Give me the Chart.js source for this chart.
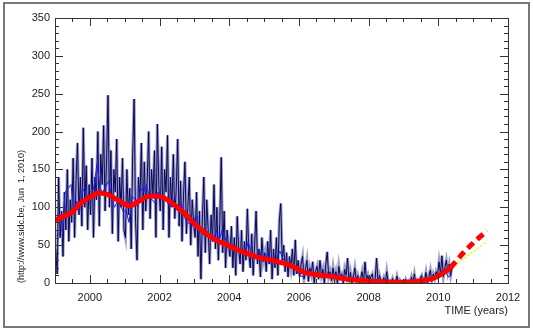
<!DOCTYPE html>
<html>
<head>
<meta charset="utf-8">
<script src="https://cdn.jsdelivr.net/npm/chart.js@4/dist/chart.umd.min.js"></script>
<style>
  html, body { margin: 0; padding: 0; background: #fff; }
  canvas { display: block; }
</style>
</head>
<body>
<canvas id="grafica" width="533" height="332"></canvas>
<script>
// Sunspot number, two values per month (start 1999.0)
const dailyValues = [
  45, 12, 140, 60, 95, 35, 120, 70, 150, 55, 110, 80, 165, 60, 135, 185, 90, 140, 75, 205, 100, 155, 70, 130,     // 1999
  90, 165, 60, 140, 110, 200, 75, 170, 130, 208, 95, 160, 248, 100, 175, 65, 150, 120, 190, 55, 140, 100, 165, 70, // 2000
  60, 150, 90, 125, 45, 170, 243, 80, 30, 140, 110, 185, 70, 160, 95, 135, 200, 85, 150, 115, 175, 60, 210, 130,   // 2001
  95, 180, 70, 150, 120, 195, 60, 140, 100, 170, 85, 125, 190, 75, 135, 55, 115, 160, 65, 100, 140, 50, 110, 80,   // 2002
  60, 120, 35, 95, 5, 85, 140, 40, 110, 70, 25, 90, 55, 130, 45, 100, 30, 80, 166, 40, 95, 20, 70, 50,             // 2003
  35, 75, 20, 60, 10, 88, 45, 25, 70, 15, 55, 30, 98, 40, 20, 65, 10, 50, 95, 25, 45, 8, 60, 30,                   // 2004
  40, 15, 55, 25, 70, 5, 45, 20, 60, 10, 82, 105, 30, 50, 15, 40, 8, 35, 20, 45, 10, 57, 12, 30,                   // 2005
  8, 25, 35, 5, 18, 30, 2, 20, 12, 28, 0, 15, 22, 5, 30, 10, 18, 0, 25, 41, 8, 15, 3, 20,                          // 2006
  5, 15, 0, 22, 8, 12, 0, 18, 10, 33, 2, 14, 0, 8, 20, 3, 10, 0, 6, 15, 0, 28, 4, 10,                              // 2007
  0, 8, 12, 0, 5, 33, 0, 10, 2, 0, 7, 0, 15, 0, 3, 0, 6, 0, 0, 9, 0, 4, 0, 2,                                      // 2008
  0, 5, 0, 3, 0, 8, 0, 12, 0, 4, 0, 6, 10, 0, 3, 14, 0, 8, 17, 2, 12, 6, 15, 10,                                   // 2009
  28, 12, 36, 8, 20, 30, 15, 25, 10, 22                                                                           // 2010
];

// Monthly mean (start 1999.0)
const monthlyValues = [
  62, 66, 70, 120, 125, 130, 95, 108, 95, 125, 118, 112,
  112, 130, 158, 125, 120, 128, 135, 110, 100, 108, 102, 95,
  95, 80, 115, 110, 100, 125, 120, 130, 112, 110, 105, 120,
  115, 110, 108, 100, 112, 98, 95, 105, 88, 80, 78, 75,
  90, 72, 68, 62, 68, 60, 55, 70, 55, 70, 60, 50,
  45, 50, 48, 40, 42, 36, 55, 40, 35, 38, 42, 28,
  30, 42, 25, 28, 35, 42, 32, 28, 25, 20, 18, 15,
  10, 8, 12, 18, 15, 10, 12, 8, 12, 15, 10, 8,
  12, 8, 6, 10, 6, 5, 8, 4, 3, 6, 2, 4,
  3, 2, 5, 2, 1, 3, 1, 0, 1, 2, 3, 2,
  1, 1, 1, 0, 2, 3, 2, 1, 4, 6, 5, 10,
  12, 18, 15, 8, 10
];

// Smoothed monthly sunspot number
const smoothYears = [1999.0, 1999.25, 1999.5, 1999.75, 2000.0, 2000.25, 2000.5, 2000.75, 2001.0, 2001.15, 2001.4, 2001.65,
  2001.9, 2002.15, 2002.4, 2002.65, 2002.9, 2003.15, 2003.4, 2003.65, 2003.9, 2004.15, 2004.4, 2004.65, 2004.9,
  2005.15, 2005.4, 2005.65, 2005.9, 2006.15, 2006.4, 2006.65, 2006.9, 2007.15, 2007.4, 2007.65, 2007.9,
  2008.15, 2008.4, 2008.65, 2008.9, 2009.15, 2009.4, 2009.65, 2009.9, 2010.1, 2010.35];
const smoothValues = [83, 88, 94, 106, 113, 119, 117, 111, 104, 102, 108, 114,
  115, 112, 104, 95, 83, 72, 63, 56, 51, 46, 41, 37, 33,
  31, 28, 25, 20, 14, 12, 10, 9, 7, 5, 4, 3,
  2, 1.5, 1, 1, 1, 2, 4, 7, 12, 20];

// Predictions
const forecastYears = [2010.35, 2010.72, 2011.05, 2011.4];
const forecastValues = [20, 40, 55, 69];
const altForecastYears = [2010.38, 2010.9, 2011.4];
const altForecastValues = [20, 38, 55];

const xTicks = [2000, 2002, 2004, 2006, 2008, 2010, 2012];
const yTicks = [0, 50, 100, 150, 200, 250, 300, 350];

const diarios = dailyValues.map((v, i) => ({ x: 1999 + i / 24 + 1 / 48, y: v }));
const mensuales = monthlyValues.map((v, i) => ({ x: 1999 + i / 12 + 1 / 24, y: v }));
const suavizado = smoothYears.map((x, i) => ({ x: x, y: smoothValues[i] }));
const prediccion = forecastYears.map((x, i) => ({ x: x, y: forecastValues[i] }));
const prediccion2 = altForecastYears.map((x, i) => ({ x: x, y: altForecastValues[i] }));

// Inward ticks on all four sides plus the frames
const marcoIDL = {
  id: 'marcoIDL',
  afterDraw(chart) {
    const { ctx, chartArea: a, scales: { x, y } } = chart;
    ctx.save();
    ctx.strokeStyle = '#333';
    ctx.lineWidth = 1;
    ctx.strokeRect(Math.round(a.left) + 0.5, Math.round(a.top) + 0.5,
      Math.round(a.right - a.left), Math.round(a.bottom - a.top));
    ctx.beginPath();
    for (let v = 1999; v <= 2012.001; v += 0.5) {
      const px = Math.round(x.getPixelForValue(v)) + 0.5;
      const len = (Math.abs(v % 2) < 0.01) ? 8 : 4;
      ctx.moveTo(px, a.bottom); ctx.lineTo(px, a.bottom - len);
      ctx.moveTo(px, a.top); ctx.lineTo(px, a.top + len);
    }
    for (let v = 0; v <= 350; v += 10) {
      const py = Math.round(y.getPixelForValue(v)) + 0.5;
      const len = (v % 50 === 0) ? 8 : 4;
      ctx.moveTo(a.left, py); ctx.lineTo(a.left + len, py);
      ctx.moveTo(a.right, py); ctx.lineTo(a.right - len, py);
    }
    ctx.stroke();
    ctx.strokeStyle = '#777';
    ctx.lineWidth = 2;
    ctx.strokeRect(4, 3, 525, 324);
    ctx.restore();
  }
};

// lower "order" is drawn on top
const ctx = document.getElementById('grafica').getContext('2d');
const myChart = new Chart(ctx, {
  type: 'line',
  data: {
    datasets: [
      { data: diarios, order: 6, borderColor: 'rgba(95,95,160,0.6)', borderWidth: 3, pointRadius: 0, tension: 0 },
      { data: diarios, order: 5, borderColor: 'rgba(0,0,90,0.95)', borderWidth: 1, pointRadius: 0, tension: 0 },
      { data: mensuales, order: 4, borderColor: '#1a1aff', borderWidth: 1, pointRadius: 0, tension: 0 },
      { data: prediccion2, order: 3, borderColor: '#f2f200', borderWidth: 1.5, borderDash: [2, 2], pointRadius: 0, tension: 0 },
      { data: suavizado, order: 2, borderColor: '#ff0000', borderWidth: 5, pointRadius: 0, cubicInterpolationMode: 'monotone' },
      { data: prediccion, order: 1, borderColor: '#ff0000', borderWidth: 5, borderDash: [8, 5], pointRadius: 0, cubicInterpolationMode: 'monotone' }
    ]
  },
  options: {
    responsive: false,
    animation: false,
    layout: { padding: { left: 0, top: 18, right: 25, bottom: 0 } },
    plugins: { legend: { display: false }, tooltip: { enabled: false } },
    scales: {
      x: {
        type: 'linear',
        min: 1999,
        max: 2012,
        grid: { display: false, drawTicks: false },
        border: { display: false },
        afterBuildTicks: (scale) => { scale.ticks = xTicks.map(v => ({ value: v })); },
        afterFit: (scale) => { scale.height = 49; },
        ticks: {
          padding: 8,
          maxRotation: 0,
          color: '#222',
          font: { family: 'Liberation Sans, Arial, sans-serif', size: 11 },
          callback: (v) => String(v)
        },
        title: {
          display: true,
          text: 'TIME (years)',
          align: 'end',
          color: '#222',
          font: { family: 'Liberation Sans, Arial, sans-serif', size: 11 },
          padding: { top: 0, bottom: 14 }
        }
      },
      y: {
        min: 0,
        max: 350,
        grid: { display: false, drawTicks: false },
        border: { display: false },
        afterBuildTicks: (scale) => { scale.ticks = yTicks.map(v => ({ value: v })); },
        afterFit: (scale) => { scale.width = 55; },
        ticks: {
          padding: 5,
          color: '#222',
          font: { family: 'Liberation Sans, Arial, sans-serif', size: 11 }
        },
        title: {
          display: true,
          text: '(http://www.sidc.be, Jun  1, 2010)',
          align: 'start',
          color: '#222',
          font: { family: 'Liberation Sans, Arial, sans-serif', size: 9 },
          padding: { top: 16, bottom: 0 }
        }
      }
    }
  },
  plugins: [marcoIDL]
});
</script>
</body>
</html>
